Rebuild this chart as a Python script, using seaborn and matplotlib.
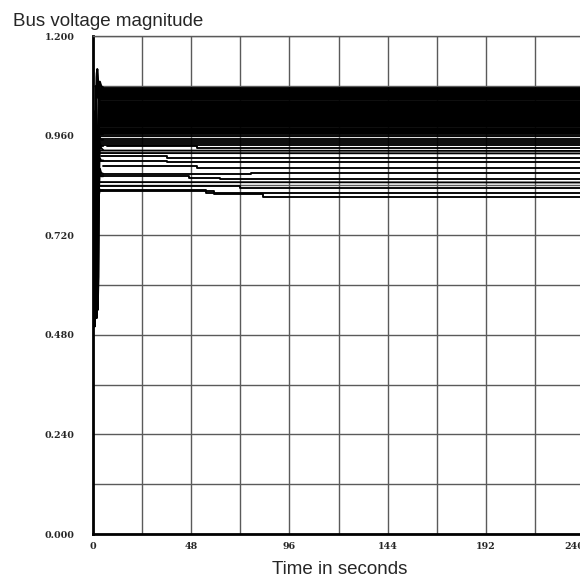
import pandas as pd
import matplotlib
matplotlib.use("Agg")
import matplotlib.pyplot as plt
from matplotlib.ticker import FixedLocator, MultipleLocator
import seaborn as sns

# Axis ticks
x_major = [0, 48, 96, 144, 192, 240]
y_major = [0.0, 0.24, 0.48, 0.72, 0.96, 1.2]
t_end = 240

# Fault transient in the first seconds (time in s, voltage in pu)
trans_t = [0.0, 0.3, 0.6, 0.9, 1.2, 1.5, 1.8, 2.1, 2.4, 2.7, 3.0, 3.4, 4.0, 5.0]
tr_a = [1.02, 0.90, 0.62, 0.52, 0.70, 0.96, 1.11, 1.12, 1.07, 1.05, 1.08, 1.09, 1.08, 1.075]
tr_b = [1.00, 0.66, 0.50, 0.74, 0.98, 1.08, 1.02, 0.86, 0.80, 0.95, 1.05, 1.04, 1.04, 1.04]
tr_c = [0.98, 0.82, 0.56, 0.62, 0.90, 1.06, 0.98, 0.78, 0.72, 0.90, 1.01, 1.00, 1.00, 1.00]
tr_d = [0.96, 0.58, 0.53, 0.80, 1.02, 0.94, 0.70, 0.64, 0.84, 0.98, 0.97, 0.965, 0.963, 0.964]
tr_e = [0.94, 0.74, 0.51, 0.56, 0.84, 1.00, 0.90, 0.66, 0.60, 0.82, 0.95, 0.94, 0.935, 0.935]
tr_f = [0.92, 0.62, 0.55, 0.82, 0.92, 0.76, 0.58, 0.62, 0.86, 0.93, 0.90, 0.905, 0.90, 0.90]
tr_g = [0.90, 0.78, 0.52, 0.60, 0.80, 0.94, 0.82, 0.60, 0.54, 0.74, 0.88, 0.865, 0.862, 0.862]
tr_h = [0.88, 0.55, 0.58, 0.86, 0.88, 0.66, 0.52, 0.70, 0.88, 0.84, 0.82, 0.83, 0.828, 0.828]
tr_i = [1.04, 0.94, 0.70, 0.58, 0.78, 1.02, 1.10, 1.12, 1.10, 1.08, 1.09, 1.085, 1.077, 1.076]
tr_j = [0.99, 0.70, 0.52, 0.66, 0.94, 1.04, 0.88, 0.68, 0.70, 0.90, 0.96, 0.955, 0.95, 0.95]
tr_k = [0.97, 0.86, 0.60, 0.50, 0.64, 0.88, 0.98, 0.74, 0.56, 0.62, 0.86, 0.94, 0.93, 0.925]
tr_l = [0.95, 0.60, 0.68, 0.92, 0.80, 0.60, 0.64, 0.90, 0.96, 0.80, 0.84, 0.88, 0.87, 0.868]
trans_traces = [tr_a, tr_b, tr_c, tr_d, tr_e, tr_f, tr_g, tr_h, tr_i, tr_j, tr_k, tr_l]

# Buses that settle right after the fault (upper band)
band_start = 2.8
band_levels = [1.075, 1.073, 1.070, 1.068, 1.066, 1.063, 1.061, 1.059, 1.056, 1.054,
               1.052, 1.049, 1.047, 1.045, 1.042, 1.040, 1.038, 1.035, 1.033, 1.031,
               1.028, 1.026, 1.024, 1.021, 1.019, 1.017, 1.014, 1.012, 1.010, 1.007,
               1.005, 1.003, 1.000, 0.998, 0.996, 0.993, 0.991, 0.989, 0.986, 0.984,
               0.982, 0.979, 0.977, 0.975, 0.972, 0.970, 0.968, 0.966]

# Buses with tap-changer steps (breakpoints; repeated times mark a step)
lower_times = [
    [2.8, t_end],
    [2.8, t_end],
    [2.8, t_end],
    [2.8, t_end],
    [2.8, t_end],
    [3.5, t_end],
    [7.0, 51, 51, t_end],
    [3.0, t_end],
    [3.0, t_end],
    [4.0, 36, 36, t_end],
    [3.0, 36, 36, t_end],
    [5.0, 51, 51, t_end],
    [4.0, 77, 77, t_end],
    [3.0, 47, 47, 62, 62, t_end],
    [3.0, t_end],
    [3.0, 72, 72, t_end],
    [3.0, 55, 55, t_end],
    [3.0, 59, 59, 83, 83, t_end],
]
lower_values = [
    [0.963, 0.963],
    [0.958, 0.958],
    [0.953, 0.953],
    [0.948, 0.948],
    [0.943, 0.943],
    [0.938, 0.938],
    [0.935, 0.935, 0.929, 0.929],
    [0.924, 0.923],
    [0.918, 0.917],
    [0.912, 0.912, 0.906, 0.906],
    [0.900, 0.900, 0.896, 0.896],
    [0.886, 0.886, 0.881, 0.881],
    [0.868, 0.868, 0.871, 0.871],
    [0.862, 0.862, 0.858, 0.858, 0.855, 0.855],
    [0.848, 0.847],
    [0.838, 0.838, 0.833, 0.833],
    [0.829, 0.829, 0.822, 0.822],
    [0.826, 0.826, 0.820, 0.820, 0.811, 0.811],
]

rows = []
bus = 0
for tr in trans_traces:
    rows += [(bus, t, v) for t, v in zip(trans_t, tr)]
    bus += 1
for lvl in band_levels:
    rows += [(bus, band_start, lvl), (bus, t_end, lvl)]
    bus += 1
for ts, vs in zip(lower_times, lower_values):
    rows += [(bus, t, v) for t, v in zip(ts, vs)]
    bus += 1
df = pd.DataFrame(rows, columns=["bus", "time", "voltage"])

sns.set_style("white")
fig = plt.figure(figsize=(5.8, 5.81), dpi=100)
ax = fig.add_axes([93 / 580, 47 / 581, 491 / 580, 498 / 581])

sns.lineplot(data=df, x="time", y="voltage", units="bus", estimator=None,
             sort=False, color="black", linewidth=1.35, legend=False, ax=ax)

ax.set_xlim(0, 240)
ax.set_ylim(0, 1.2)
ax.xaxis.set_major_locator(FixedLocator(x_major))
ax.xaxis.set_minor_locator(MultipleLocator(24))
ax.yaxis.set_major_locator(FixedLocator(y_major))
ax.yaxis.set_minor_locator(MultipleLocator(0.12))
ax.set_xticklabels([str(v) for v in x_major])
ax.set_yticklabels([f"{v:.3f}" for v in y_major])

grid_color = "#5a5a5a"
ax.grid(which="both", color=grid_color, linewidth=1.0)
ax.set_axisbelow(True)

ax.tick_params(axis="y", which="major", direction="out", length=6.5, width=1.6,
               pad=7, labelsize=6.8, color="black")
ax.tick_params(axis="x", which="major", direction="inout", length=5, width=1.6,
               pad=3, labelsize=6.8, color="black")
ax.tick_params(which="minor", length=0)
for lab in ax.get_xticklabels() + ax.get_yticklabels():
    lab.set_fontfamily("DejaVu Serif")
    lab.set_fontweight("bold")
ax.get_xticklabels()[-1].set_horizontalalignment("right")

ax.spines["right"].set_visible(False)
ax.spines["top"].set_color(grid_color)
ax.spines["top"].set_linewidth(1.0)
for side in ("left", "bottom"):
    ax.spines[side].set_color("black")
    ax.spines[side].set_linewidth(2.0)

ax.set_ylabel("")
ax.set_xlabel("Time in seconds", fontsize=13.5, family="Liberation Sans")
ax.xaxis.set_label_coords(0.503, -0.054)

fig.text(13 / 580, 1 - 26 / 581, "Bus voltage magnitude", fontsize=13.5,
         family="Liberation Sans", va="baseline", ha="left")

fig.savefig("out.png", dpi=100)
